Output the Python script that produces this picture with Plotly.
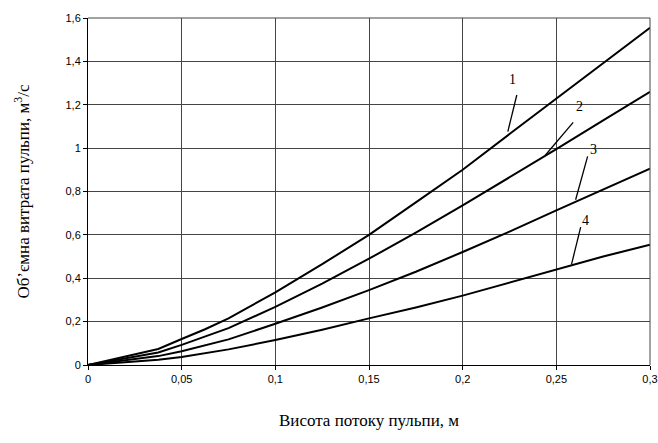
import plotly.graph_objects as go

x_vals = [0, 0.0125, 0.025, 0.0375, 0.05, 0.0625, 0.075, 0.1, 0.125, 0.15,
          0.175, 0.2, 0.225, 0.25, 0.275, 0.3]
curve1 = [0, 0.025, 0.05, 0.074, 0.12, 0.165, 0.215, 0.335, 0.465, 0.60,
          0.75, 0.90, 1.065, 1.227, 1.39, 1.555]
curve2 = [0, 0.02, 0.04, 0.058, 0.093, 0.13, 0.17, 0.268, 0.375, 0.49,
          0.61, 0.736, 0.865, 0.995, 1.128, 1.26]
curve3 = [0, 0.014, 0.028, 0.041, 0.063, 0.09, 0.118, 0.19, 0.265, 0.345,
          0.43, 0.521, 0.615, 0.713, 0.81, 0.905]
curve4 = [0, 0.008, 0.016, 0.024, 0.037, 0.055, 0.072, 0.115, 0.163, 0.215,
          0.265, 0.32, 0.38, 0.44, 0.50, 0.555]
series = [curve1, curve2, curve3, curve4]
labels = ["1", "2", "3", "4"]
# label text position and leader line (from, to) in data units
label_pos = [(0.2268, 1.315), (0.2621, 1.191), (0.270, 0.992), (0.2658, 0.667)]
leaders = [((0.2289, 1.245), (0.2241, 1.076)),
           ((0.259, 1.119), (0.244, 0.966)),
           ((0.2667, 0.962), (0.2603, 0.762)),
           ((0.263, 0.636), (0.2581, 0.464))]

fig = go.Figure()
for ys in series:
    fig.add_trace(go.Scatter(x=x_vals, y=ys, mode="lines",
                             line=dict(color="black", width=2),
                             showlegend=False, hoverinfo="skip"))

for lab, (tx, ty), ((x0, y0), (x1, y1)) in zip(labels, label_pos, leaders):
    fig.add_annotation(x=tx, y=ty, xref="x", yref="y", text=lab,
                       showarrow=False,
                       font=dict(family="Liberation Serif", size=14, color="black"))
    fig.add_shape(type="line", x0=x0, y0=y0, x1=x1, y1=y1, xref="x", yref="y",
                  line=dict(color="black", width=1.3))

grid_col = "#444444"
fig.update_xaxes(range=[0, 0.3], dtick=0.05, tick0=0, automargin=False,
                 ticklabeloverflow="allow",
                 showgrid=True, gridcolor=grid_col, gridwidth=1,
                 showline=True, linecolor="black", linewidth=1,
                 ticks="outside", ticklen=4, tickcolor="black",
                 zeroline=False,
                 tickfont=dict(family="Liberation Sans", size=11, color="black"),
                 title=dict(text="Висота потоку пульпи, м", standoff=29,
                            font=dict(family="Liberation Serif", size=17, color="black")))
fig.update_yaxes(range=[0, 1.6], dtick=0.2, tick0=0, automargin=False,
                 showgrid=True, gridcolor=grid_col, gridwidth=1,
                 showline=True, linecolor="black", linewidth=1,
                 ticks="outside", ticklen=4, tickcolor="black",
                 zeroline=False,
                 tickfont=dict(family="Liberation Sans", size=11, color="black"),
                 title=dict(text="Об’ємна витрата пульпи, м<sup>3</sup>/с", standoff=31,
                            font=dict(family="Liberation Serif", size=17, color="black")))

# top and right borders
fig.add_shape(type="line", xref="paper", yref="paper", x0=0, x1=1, y0=1, y1=1,
              line=dict(color=grid_col, width=1))
fig.add_shape(type="line", xref="paper", yref="paper", x0=1, x1=1, y0=0, y1=1,
              line=dict(color=grid_col, width=1))

fig.update_layout(width=658, height=443, separators=", ",
                  margin=dict(l=88, r=8, t=18, b=78),
                  paper_bgcolor="white", plot_bgcolor="white")

fig.write_html("out.html", config={"displayModeBar": False},
               post_script="document.body.style.margin='0';document.body.style.overflow='hidden';")
